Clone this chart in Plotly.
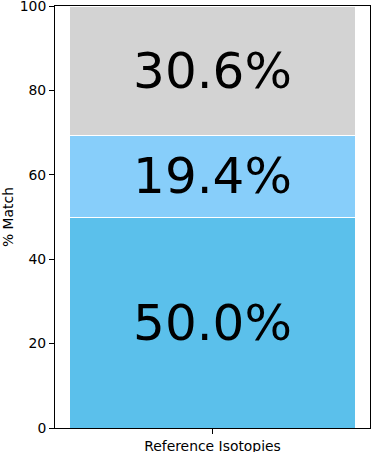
import plotly.graph_objects as go

categories = ["Reference Isotopies"]
segment_names = ["Match", "Partial", "No match"]
segment_values = [50.0, 19.4, 30.6]
segment_colors = ["#5BC0EB", "#87CEFA", "#D3D3D3"]
y_ticks = [0, 20, 40, 60, 80, 100]

fig = go.Figure()
for name, val, col in zip(segment_names, segment_values, segment_colors):
    fig.add_trace(go.Bar(
        x=categories, y=[val], name=name,
        marker=dict(color=col, line=dict(color="white", width=1)),
        width=0.8,
        text=[f"{val:.1f}%"], textposition="inside", insidetextanchor="middle",
        textangle=0,
        textfont=dict(family="DejaVu Sans", size=50, color="black"),
    ))

L, R, T, B = 55, 2, 6, 24
W, H = 372, 452
FS = 13.9
fig.update_layout(
    barmode="stack",
    width=W, height=H,
    margin=dict(l=L, r=R, t=T, b=B),
    plot_bgcolor="white", paper_bgcolor="white",
    showlegend=False,
    font=dict(family="DejaVu Sans", size=FS, color="black"),
    uniformtext=dict(minsize=8, mode="show"),
)
fig.update_xaxes(
    range=[-0.44, 0.44], showline=True, linecolor="black", linewidth=1, mirror=True,
    ticks="outside", ticklen=5, tickcolor="black", showgrid=False, automargin=False,
    ticklabeloverflow="allow",
)
fig.update_yaxes(
    range=[0, 100], tickvals=y_ticks, showline=True, linecolor="black", linewidth=1,
    mirror=True, ticks="outside", ticklen=5, tickcolor="black", showgrid=False,
    zeroline=False, ticklabeloverflow="allow", automargin=False,
)
fig.add_annotation(
    text="% Match", textangle=-90, xref="paper", yref="paper",
    x=-(L - 8) / (W - L - R), y=0.5, xanchor="center", yanchor="middle",
    showarrow=False, font=dict(size=FS),
)
fig.write_html("out.html", post_script="document.body.style.margin='0';",
               config={"displayModeBar": False})
